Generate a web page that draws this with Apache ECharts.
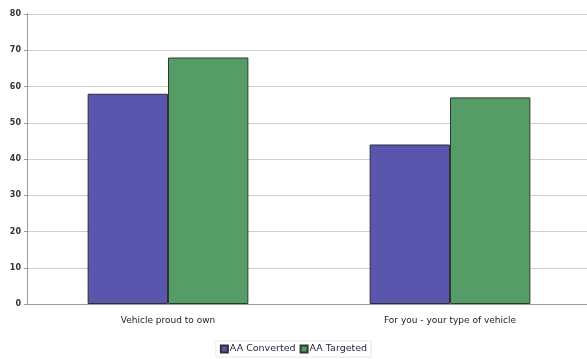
<!DOCTYPE html>
<html>
<head>
<meta charset="utf-8">
<script src="https://cdn.jsdelivr.net/npm/echarts@6/dist/echarts.min.js"></script>
<style>
  html, body { margin: 0; padding: 0; background: #fff; }
  #chart { width: 587px; height: 359px; }
</style>
</head>
<body>
<div id="chart"></div>
<script>
var categories = ['Vehicle proud to own', 'For you - your type of vehicle'];
var convertedValues = [58, 44];
var targetedValues = [68, 57];
var seriesNames = ['AA Converted', 'AA Targeted'];

var chart = echarts.init(document.getElementById('chart'));
var font = 'DejaVu Sans';

var option = {
    animation: false,
    backgroundColor: '#ffffff',
    grid: {
        left: 27,
        width: 564,
        top: 14,
        bottom: 55,
        outerBoundsMode: 'none'
    },
    legend: {
        data: seriesNames,
        bottom: 2,
        left: 'center',
        itemWidth: 7,
        itemHeight: 7,
        itemGap: 4,
        icon: 'rect',
        padding: [3, 4],
        borderColor: '#e8e8e8',
        borderWidth: 1,
        textStyle: {
            fontFamily: font,
            fontSize: 9.5,
            color: '#26263c',
            padding: [0, 0, 0, -3]
        }
    },
    xAxis: {
        type: 'category',
        data: categories,
        axisTick: { show: false },
        axisLine: { lineStyle: { color: '#999', width: 1 } },
        axisLabel: {
            fontFamily: font,
            fontSize: 9,
            color: '#222',
            margin: 12
        }
    },
    yAxis: {
        type: 'value',
        min: 0,
        max: 80,
        interval: 10,
        axisLine: { show: true, lineStyle: { color: '#999' } },
        axisTick: { show: true, length: 3, lineStyle: { color: '#999' } },
        splitLine: { lineStyle: { color: '#cfcfcf' } },
        axisLabel: {
            fontFamily: font,
            fontSize: 8,
            fontWeight: 'bold',
            color: '#333',
            margin: 6
        }
    },
    series: [
        {
            name: seriesNames[0],
            type: 'bar',
            data: convertedValues,
            barGap: '0%',
            barCategoryGap: '43%',
            itemStyle: { color: '#5a55ad', borderColor: '#2e2e3a', borderWidth: 1 }
        },
        {
            name: seriesNames[1],
            type: 'bar',
            data: targetedValues,
            itemStyle: { color: '#559c66', borderColor: '#2e3a2e', borderWidth: 1 }
        }
    ]
};
chart.setOption(option);
</script>
</body>
</html>
